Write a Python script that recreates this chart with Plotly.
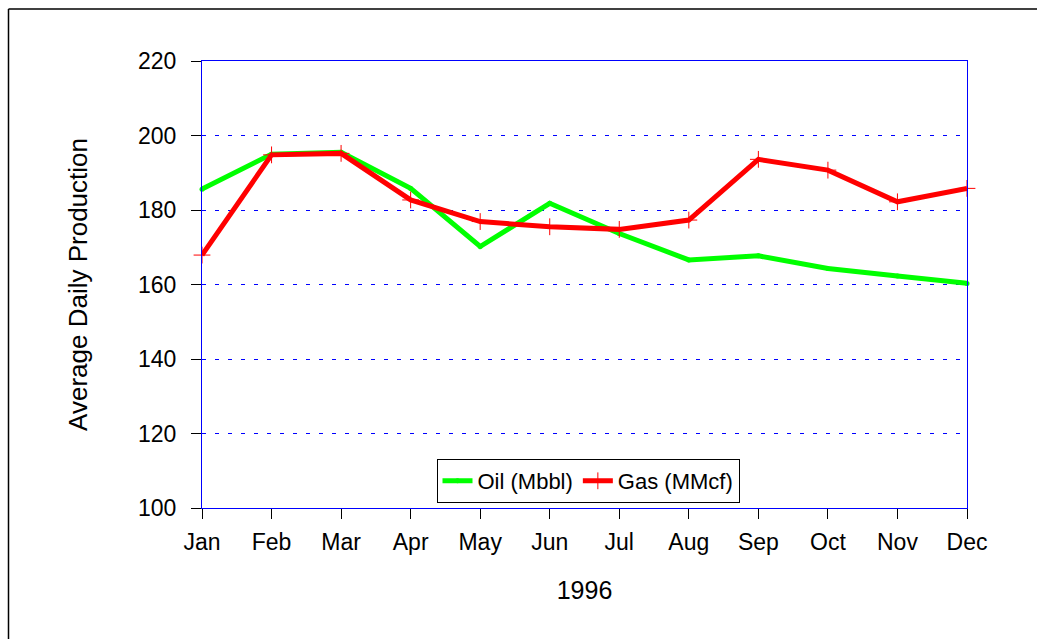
import plotly.graph_objects as go

months = ["Jan", "Feb", "Mar", "Apr", "May", "Jun", "Jul", "Aug", "Sep", "Oct", "Nov", "Dec"]
oil = [185.6, 195.0, 195.5, 185.8, 170.2, 181.8, 173.7, 166.6, 167.7, 164.3, 162.3, 160.3]
gas = [167.9, 194.8, 195.2, 182.7, 176.9, 175.5, 174.8, 177.3, 193.6, 190.7, 182.2, 185.8]
y_ticks = [100, 120, 140, 160, 180, 200, 220]

FONT = "Arial, Liberation Sans, sans-serif"

fig = go.Figure()
fig.add_trace(go.Scatter(
    x=months, y=oil, name="Oil (Mbbl)", mode="lines+markers",
    line=dict(color="#00ff00", width=5),
    marker=dict(symbol="circle", size=5, color="#00ff00"),
    cliponaxis=False,
))
fig.add_trace(go.Scatter(
    x=months, y=gas, name="Gas (MMcf)", mode="lines+markers",
    line=dict(color="#ff0000", width=5),
    marker=dict(symbol="cross-thin", size=12, line=dict(color="#ff0000", width=1)),
    cliponaxis=False,
))

L, R, T, B = 202, 70, 61, 131
W, H = 1037, 639
pw, ph = W - L - R, H - T - B

def px_x(px):
    return (px - L) / pw

def px_y(py):
    return (H - B - py) / ph

fig.update_layout(
    width=W, height=H,
    margin=dict(l=L, r=R, t=T, b=B, pad=0),
    paper_bgcolor="white", plot_bgcolor="white",
    font=dict(family=FONT, size=23, color="black"),
    showlegend=True,
    legend=dict(
        x=px_x(588), y=px_y(459), xanchor="center", yanchor="top",
        orientation="h", bgcolor="white", bordercolor="black", borderwidth=1,
        font=dict(family=FONT, size=22), itemwidth=30,
        tracegroupgap=0,
    ),
    xaxis=dict(
        type="category", categoryorder="array", categoryarray=months,
        range=[0, 11], showgrid=False, zeroline=False,
        showline=True, linecolor="blue", linewidth=1, mirror=True,
        ticks="outside", ticklen=10, tickcolor="black", tickwidth=1,
        tickfont=dict(family=FONT, size=23), ticklabelstandoff=3,
        title=dict(text="1996", font=dict(family=FONT, size=25), standoff=27),
    ),
    yaxis=dict(
        range=[100, 220], tickvals=y_ticks, showgrid=True,
        gridcolor="blue", griddash="4px,9px", gridwidth=1, zeroline=False,
        showline=True, linecolor="blue", linewidth=1, mirror=True,
        ticks="outside", ticklen=10, tickcolor="black", tickwidth=1,
        tickfont=dict(family=FONT, size=23), ticklabelstandoff=10,
        title=dict(text="Average Daily Production", font=dict(family=FONT, size=26), standoff=42),
    ),
    shapes=[
        dict(type="line", xref="paper", yref="paper",
             x0=px_x(8.5), x1=px_x(1100), y0=px_y(9), y1=px_y(9),
             line=dict(color="black", width=1.5), layer="below"),
        dict(type="line", xref="paper", yref="paper",
             x0=px_x(8.5), x1=px_x(8.5), y0=px_y(9), y1=px_y(700),
             line=dict(color="black", width=1.5), layer="below"),
    ],
)

fig.write_html(
    "out.html",
    config={"displayModeBar": False},
    post_script="document.body.style.margin='0';document.body.style.overflow='hidden';",
)
